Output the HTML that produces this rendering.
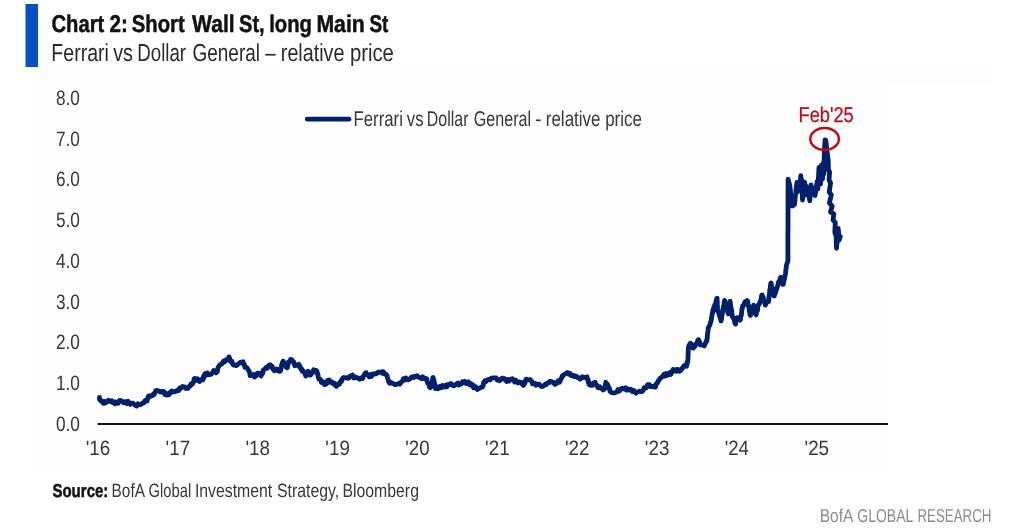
<!DOCTYPE html>
<html><head><meta charset="utf-8"><title>Chart 2</title>
<style>
html,body{margin:0;padding:0;background:#ffffff;}
body{width:1024px;height:530px;overflow:hidden;font-family:"Liberation Sans",sans-serif;}
svg{display:block;will-change:transform;text-rendering:geometricPrecision;}
svg text{font-family:"Liberation Sans",sans-serif;}
</style></head>
<body>
<svg width="1024" height="530" viewBox="0 0 1024 530">
<rect x="30" y="87" width="858" height="383" fill="#fefefe"/>
<rect x="30" y="66" width="964" height="18" fill="#fefefe"/>
<rect x="25.5" y="4" width="12.5" height="63" fill="#0550c3"/>
<line x1="97.5" y1="424" x2="888" y2="424" stroke="#111111" stroke-width="2.2"/>
<line x1="307.3" y1="119.2" x2="349" y2="119.2" stroke="#00206b" stroke-width="4.8" stroke-linecap="round"/>
<path d="M99.5,397.4 L99.5,398.0 L99.6,399.6 L101.0,401.0 L102.0,400.8 L103.1,403.1 L104.1,403.4 L105.2,401.6 L106.3,402.5 L107.4,401.6 L108.5,400.2 L109.6,401.0 L110.7,401.6 L111.8,400.8 L112.8,402.5 L113.9,402.0 L115.0,403.9 L116.0,402.1 L117.1,402.6 L118.2,403.3 L119.2,400.6 L120.2,400.4 L121.3,400.7 L122.4,401.4 L123.5,402.7 L124.6,401.9 L125.8,401.6 L126.9,403.7 L128.0,401.2 L129.1,402.9 L130.2,404.4 L131.2,403.1 L132.2,403.1 L133.3,403.4 L134.3,404.4 L135.4,405.4 L136.7,406.0 L137.9,403.8 L139.2,404.7 L140.4,404.6 L141.7,403.9 L142.8,402.9 L143.9,402.9 L144.9,400.8 L146.0,400.3 L147.1,401.0 L147.4,399.0 L147.6,399.2 L147.9,397.3 L148.2,396.4 L149.3,395.6 L150.4,396.3 L151.5,395.7 L152.6,395.6 L153.4,394.0 L154.2,394.4 L154.9,393.1 L155.7,390.7 L156.5,390.4 L157.8,390.8 L159.0,390.8 L160.3,392.1 L161.5,391.8 L162.8,391.3 L163.8,391.6 L164.8,394.6 L165.7,393.0 L166.7,395.1 L167.8,394.3 L168.8,394.7 L169.8,392.4 L170.9,392.8 L171.9,390.9 L173.0,391.7 L174.2,391.8 L175.3,391.7 L176.5,390.7 L177.7,390.1 L178.6,390.5 L179.6,388.1 L180.5,388.5 L181.5,387.5 L182.4,386.5 L183.6,387.0 L184.8,387.0 L185.9,388.4 L187.1,387.7 L188.0,388.4 L189.0,386.4 L189.9,386.3 L190.9,383.9 L191.8,384.6 L192.3,384.2 L192.7,383.0 L193.2,383.0 L193.7,381.4 L194.1,378.8 L194.6,378.4 L195.6,378.7 L196.6,380.1 L197.6,378.8 L198.6,380.8 L199.6,381.5 L200.6,380.0 L201.7,379.3 L202.7,379.9 L203.1,377.5 L203.5,378.6 L203.9,375.7 L204.3,375.0 L204.7,374.4 L205.1,373.7 L206.3,375.1 L207.4,373.0 L208.6,374.4 L209.8,374.8 L210.6,374.1 L211.4,374.2 L212.1,373.2 L212.9,372.5 L213.7,370.5 L214.5,370.6 L215.2,371.8 L216.0,372.9 L216.5,371.5 L217.0,372.1 L217.5,371.3 L217.9,367.9 L218.4,367.0 L218.9,366.2 L219.4,365.2 L219.9,365.0 L220.8,364.3 L221.8,364.0 L222.7,362.4 L223.7,361.0 L224.6,361.9 L225.3,360.8 L226.1,359.8 L226.8,359.6 L227.5,359.9 L228.3,358.3 L229.0,356.9 L229.5,358.2 L229.9,359.8 L230.4,361.2 L230.9,361.9 L231.9,361.3 L232.9,364.6 L233.8,365.1 L234.8,365.0 L236.1,365.6 L237.4,364.9 L238.7,363.5 L240.0,362.6 L241.3,362.1 L242.6,361.9 L243.1,361.8 L243.6,364.5 L244.0,363.9 L244.5,365.0 L245.0,367.4 L246.0,367.3 L247.1,367.9 L248.1,369.7 L248.5,370.4 L248.9,370.8 L249.4,371.8 L249.8,373.5 L250.2,375.7 L251.3,374.6 L252.4,375.4 L253.5,374.5 L254.6,377.1 L255.7,376.0 L256.5,375.4 L257.2,373.1 L258.0,373.2 L259.0,373.4 L260.1,374.6 L261.1,376.0 L261.5,374.5 L261.9,372.8 L262.3,373.9 L262.7,373.3 L263.1,370.6 L263.5,369.7 L264.8,369.2 L266.1,367.5 L267.4,368.2 L268.1,366.1 L268.8,366.0 L269.4,364.9 L270.1,364.7 L270.8,366.8 L271.5,365.8 L272.2,366.5 L272.9,369.0 L274.1,370.7 L275.2,369.9 L276.4,369.1 L277.6,370.7 L278.7,369.5 L279.9,371.3 L280.3,370.3 L280.6,370.5 L281.0,369.0 L281.3,367.4 L281.7,364.9 L282.0,364.1 L282.4,362.4 L282.7,363.0 L283.1,361.1 L283.8,362.2 L284.4,364.0 L285.1,363.7 L285.7,364.5 L286.4,367.3 L287.0,367.4 L287.3,367.8 L287.6,366.3 L287.9,365.0 L288.2,364.0 L288.5,361.9 L289.6,361.9 L290.6,359.5 L291.7,359.6 L292.2,360.7 L292.7,361.2 L293.2,361.3 L293.8,362.3 L294.3,364.1 L294.8,365.8 L296.1,364.6 L297.4,365.4 L298.7,364.3 L299.3,366.6 L299.9,366.0 L300.6,368.4 L301.2,369.5 L301.8,369.0 L302.4,371.4 L302.9,370.6 L303.5,371.2 L304.1,372.2 L304.7,373.1 L305.2,374.1 L305.8,376.0 L306.4,375.2 L307.0,374.9 L307.5,373.5 L308.1,371.3 L308.7,372.2 L309.3,373.7 L309.9,375.1 L310.5,375.2 L311.1,372.9 L311.7,373.5 L312.4,373.1 L313.0,371.6 L313.6,369.7 L315.0,370.9 L316.4,370.5 L316.8,371.6 L317.2,371.8 L317.6,374.8 L317.9,374.5 L318.3,377.0 L318.7,378.7 L319.1,378.4 L319.9,379.0 L320.6,379.9 L321.4,382.4 L322.2,382.6 L323.0,381.8 L323.7,382.6 L324.5,384.6 L325.3,382.8 L326.1,384.2 L326.9,383.2 L327.6,380.4 L328.4,381.7 L329.2,379.9 L330.1,382.2 L331.0,382.0 L331.9,381.9 L332.8,383.4 L333.7,382.9 L334.6,383.4 L335.5,385.7 L336.4,386.4 L337.4,384.8 L338.3,383.7 L339.3,384.3 L340.2,382.3 L340.8,381.1 L341.4,381.5 L341.9,380.4 L342.5,378.4 L343.6,377.5 L344.7,377.7 L345.8,377.8 L346.9,377.6 L348.0,378.4 L348.9,378.0 L349.8,376.3 L350.6,376.1 L351.5,375.7 L352.6,375.1 L353.7,377.9 L354.8,376.7 L355.9,377.6 L357.1,377.6 L358.4,378.2 L359.6,379.3 L360.9,378.0 L362.1,378.4 L362.7,378.6 L363.3,376.3 L364.0,375.4 L364.6,374.3 L365.2,373.2 L366.2,372.7 L367.2,374.8 L368.2,374.9 L369.2,376.8 L370.3,374.7 L371.4,376.5 L372.4,374.0 L373.5,374.2 L374.6,373.7 L375.8,374.0 L377.0,373.2 L378.1,372.1 L379.3,372.4 L380.5,372.1 L381.7,371.6 L382.6,373.2 L383.5,371.9 L384.4,374.0 L385.4,373.8 L386.3,374.6 L387.2,376.0 L387.5,377.9 L387.8,378.2 L388.1,379.5 L388.4,381.2 L388.7,381.5 L389.7,383.2 L390.7,382.2 L391.7,383.2 L392.8,383.3 L393.8,383.8 L394.8,384.7 L395.8,384.6 L396.8,384.0 L397.9,383.8 L398.9,383.2 L400.0,384.1 L401.0,382.3 L401.8,381.7 L402.5,381.1 L403.3,378.8 L404.5,380.1 L405.7,377.9 L406.9,378.8 L408.0,379.9 L409.2,379.5 L410.4,378.4 L411.5,377.1 L412.6,376.8 L413.7,377.5 L414.9,376.2 L416.0,376.5 L417.1,375.7 L418.2,376.8 L419.3,377.5 L420.4,378.1 L421.5,378.7 L422.7,376.7 L423.8,378.6 L424.9,378.7 L426.0,378.4 L426.6,378.5 L427.2,381.9 L427.8,383.3 L428.4,383.1 L428.9,383.4 L429.4,386.8 L429.9,386.2 L430.4,387.7 L430.7,386.5 L431.0,386.9 L431.3,385.3 L431.6,382.2 L431.9,381.9 L432.2,381.0 L432.5,379.4 L432.8,377.8 L433.1,377.6 L433.3,378.1 L433.6,380.4 L433.8,379.4 L434.0,382.1 L434.2,382.9 L434.5,382.7 L434.7,384.7 L434.9,386.7 L435.2,387.4 L435.4,388.5 L436.6,386.6 L437.8,388.8 L438.9,387.6 L440.1,386.2 L441.3,387.8 L442.5,385.4 L443.6,386.1 L444.8,387.0 L446.0,385.0 L447.1,386.6 L448.3,384.5 L449.5,384.6 L450.8,383.5 L452.0,384.4 L453.3,385.8 L454.5,385.6 L455.8,384.6 L456.9,383.6 L458.0,383.0 L459.1,385.0 L460.3,383.7 L461.4,383.8 L462.5,381.7 L463.6,382.6 L464.8,381.4 L465.9,383.5 L467.1,382.8 L468.3,381.9 L469.4,384.7 L470.6,383.5 L471.4,384.7 L472.2,386.1 L472.9,384.8 L473.7,387.9 L474.5,387.7 L475.8,386.8 L477.2,389.5 L478.5,388.8 L479.8,388.1 L481.1,387.1 L482.4,387.0 L482.8,386.0 L483.1,385.9 L483.5,382.8 L483.9,382.3 L484.9,380.8 L486.0,381.6 L487.0,380.3 L488.1,379.5 L489.1,379.3 L490.2,379.9 L491.4,378.1 L492.5,378.0 L493.7,377.8 L494.9,377.9 L496.1,378.0 L497.2,380.1 L498.4,379.4 L499.6,380.7 L500.8,379.6 L501.9,378.4 L502.8,378.1 L503.8,379.2 L504.7,378.8 L505.7,380.1 L506.6,381.5 L507.8,379.4 L509.0,381.0 L510.1,379.9 L511.3,379.1 L512.4,378.7 L513.5,380.2 L514.6,382.1 L515.7,380.2 L516.8,382.0 L518.0,383.0 L519.1,381.9 L520.3,382.2 L521.5,382.3 L522.1,384.3 L522.8,384.0 L523.4,385.4 L523.9,384.4 L524.3,383.9 L524.8,383.7 L525.3,380.7 L525.7,381.1 L526.2,379.1 L527.5,379.9 L528.8,379.8 L530.1,379.5 L530.7,380.3 L531.3,381.2 L531.9,381.4 L532.5,383.8 L533.6,383.0 L534.7,383.1 L535.8,385.3 L537.0,384.2 L538.1,384.1 L539.2,384.2 L540.3,385.7 L541.5,386.5 L542.7,386.4 L543.9,385.6 L545.1,384.2 L546.3,384.6 L547.2,383.2 L548.2,382.7 L549.1,382.6 L550.1,381.1 L551.0,381.5 L552.0,382.0 L553.1,382.1 L554.1,383.5 L555.1,384.4 L556.2,383.9 L557.2,382.1 L558.3,380.7 L559.4,382.3 L560.4,380.4 L561.0,378.8 L561.6,377.9 L562.3,375.8 L562.9,375.9 L563.5,375.2 L564.5,374.4 L565.6,373.7 L566.6,372.9 L567.8,372.7 L569.0,374.3 L570.1,373.5 L571.3,375.7 L572.4,375.4 L573.4,375.3 L574.5,376.7 L575.6,376.0 L576.7,376.4 L577.8,377.7 L578.8,377.9 L579.9,379.1 L580.7,378.6 L581.5,377.7 L582.3,376.8 L583.5,377.6 L584.6,377.3 L585.8,377.4 L587.0,376.8 L587.3,379.1 L587.7,378.7 L588.0,379.6 L588.3,382.7 L588.6,381.3 L589.0,384.2 L589.3,384.6 L590.8,385.4 L592.4,385.4 L593.3,383.0 L594.2,384.3 L595.1,382.3 L595.8,384.6 L596.5,384.8 L597.3,386.2 L598.0,387.6 L598.7,387.7 L599.8,386.9 L600.9,388.4 L602.0,388.7 L603.1,390.0 L604.2,389.3 L604.5,389.0 L604.7,387.9 L605.0,386.1 L605.3,385.8 L605.5,384.0 L605.8,382.3 L606.3,383.9 L606.8,383.6 L607.3,384.0 L607.9,385.3 L608.4,387.0 L608.9,388.5 L609.5,388.3 L610.0,391.5 L610.6,391.6 L611.2,392.4 L612.4,392.8 L613.5,392.8 L614.7,392.9 L615.9,392.4 L617.0,391.7 L618.0,389.5 L619.0,391.2 L620.1,390.3 L621.2,388.9 L622.2,388.2 L623.4,388.6 L624.5,389.3 L625.7,387.8 L626.9,390.2 L628.0,389.0 L629.2,390.1 L630.3,389.1 L631.5,389.9 L632.6,391.6 L633.7,390.3 L634.8,392.2 L636.0,393.2 L637.1,392.0 L638.2,391.8 L639.3,391.2 L640.3,391.3 L641.4,391.7 L642.5,390.9 L643.0,390.6 L643.6,389.1 L644.1,387.7 L645.3,388.1 L646.5,387.7 L647.1,385.4 L647.7,384.6 L648.3,384.6 L649.5,384.6 L650.7,386.7 L651.9,386.7 L653.1,386.2 L654.3,387.1 L655.5,387.0 L656.0,384.5 L656.4,383.6 L656.9,383.2 L657.3,383.3 L657.8,382.3 L658.2,380.7 L659.0,380.4 L659.8,378.5 L660.5,378.4 L661.3,377.5 L662.1,376.7 L662.9,376.0 L664.0,374.3 L665.0,376.1 L666.0,373.5 L667.1,375.4 L668.2,374.7 L669.2,372.9 L670.7,374.4 L671.2,372.0 L671.7,372.3 L672.1,372.4 L672.6,371.8 L673.1,369.4 L674.1,369.9 L675.2,370.0 L676.2,371.3 L677.0,369.5 L677.8,369.4 L679.3,371.3 L680.9,370.5 L681.5,368.6 L682.2,368.7 L682.8,367.4 L684.0,365.8 L685.2,366.4 L686.4,365.8 L686.7,366.1 L687.0,362.5 L687.3,363.5 L687.6,361.5 L687.9,360.4 L687.9,360.4 L688.0,358.7 L688.0,356.2 L688.1,357.0 L688.1,354.6 L688.2,352.1 L688.2,350.9 L688.3,351.2 L688.3,349.9 L688.4,348.4 L688.4,347.8 L688.9,345.6 L689.4,345.0 L689.9,343.8 L690.4,343.2 L691.0,345.4 L691.6,344.1 L692.2,347.6 L692.8,348.0 L693.5,348.0 L694.2,344.9 L695.0,346.3 L695.7,344.0 L696.4,343.6 L697.1,343.1 L697.8,340.1 L698.5,339.7 L699.0,340.5 L699.5,341.7 L699.9,344.7 L700.4,344.4 L701.7,345.2 L703.0,345.0 L704.3,345.9 L704.9,344.5 L705.6,342.9 L706.2,341.0 L706.9,341.2 L707.0,338.9 L707.1,340.0 L707.2,337.2 L707.3,338.1 L707.4,334.9 L707.5,333.8 L707.7,333.5 L707.8,331.4 L707.9,330.8 L708.0,331.5 L708.1,330.2 L708.2,327.9 L708.6,327.7 L709.1,326.1 L709.5,325.8 L710.0,324.8 L710.4,322.5 L710.9,321.9 L711.3,320.1 L711.5,317.5 L711.6,318.3 L711.8,316.2 L711.9,315.8 L712.1,313.8 L712.5,313.1 L712.8,310.9 L713.2,309.1 L713.5,310.6 L713.9,307.1 L714.2,307.0 L714.6,305.5 L715.0,304.3 L715.3,304.5 L715.7,304.1 L716.0,300.8 L716.4,300.9 L716.7,298.7 L717.1,298.2 L717.1,299.5 L717.2,300.2 L717.2,300.6 L717.3,301.7 L717.3,303.0 L717.4,306.2 L717.4,306.1 L717.5,306.5 L717.5,309.6 L717.6,311.1 L717.6,310.7 L718.0,311.7 L718.4,311.9 L718.7,313.2 L719.1,314.0 L719.5,315.9 L719.9,316.3 L720.2,317.9 L720.6,319.0 L721.0,320.9 L721.2,320.0 L721.4,319.8 L721.6,318.2 L721.8,316.1 L722.0,315.0 L722.2,314.2 L722.4,312.6 L722.6,311.3 L722.8,309.4 L723.0,308.9 L723.2,309.8 L723.4,306.2 L723.6,306.2 L723.8,305.4 L724.0,305.0 L724.2,301.9 L724.4,300.9 L724.6,300.5 L724.9,300.9 L725.2,302.4 L725.6,303.7 L725.9,306.3 L726.2,307.1 L726.5,308.3 L726.9,306.8 L727.2,308.0 L727.5,311.1 L727.9,312.8 L728.2,312.6 L728.5,313.8 L728.6,312.9 L728.8,310.0 L728.9,310.1 L729.1,310.5 L729.2,309.1 L729.4,308.0 L729.5,307.3 L729.7,304.0 L729.8,302.4 L730.0,301.4 L730.1,301.3 L730.3,302.5 L730.5,304.1 L730.6,306.1 L730.8,306.5 L731.0,307.5 L731.2,309.0 L731.3,309.2 L731.5,310.6 L731.7,310.2 L731.9,313.6 L732.0,313.1 L732.2,316.3 L732.4,316.2 L732.9,317.8 L733.3,317.8 L733.8,318.4 L734.2,319.9 L734.7,322.2 L735.1,323.5 L735.6,324.0 L735.9,321.6 L736.2,320.2 L736.5,320.3 L736.8,319.2 L737.1,317.7 L738.2,318.2 L739.2,318.5 L740.3,320.1 L740.5,319.2 L740.7,316.3 L740.9,316.0 L741.1,315.3 L741.3,315.6 L741.5,313.5 L741.6,313.0 L741.8,310.6 L742.0,308.7 L742.2,307.6 L742.4,308.6 L742.6,306.0 L743.4,305.7 L744.2,303.6 L745.0,301.8 L745.7,302.3 L746.5,301.9 L747.3,300.5 L747.5,301.4 L747.8,302.1 L748.0,304.4 L748.3,306.4 L748.5,305.4 L748.7,306.0 L749.0,308.0 L749.2,309.4 L749.4,311.4 L749.7,311.1 L749.9,314.0 L750.2,315.0 L750.4,315.4 L750.8,314.3 L751.1,312.2 L751.5,313.4 L751.8,310.3 L752.2,310.7 L752.5,307.8 L752.9,306.6 L753.2,307.1 L753.6,305.2 L753.9,305.8 L754.2,308.9 L754.5,308.7 L754.8,309.0 L755.0,310.2 L755.3,312.0 L755.6,313.9 L755.9,314.6 L756.2,314.9 L756.5,311.4 L756.9,311.0 L757.2,309.4 L757.5,310.6 L757.8,307.0 L758.1,305.6 L758.5,304.6 L758.8,304.5 L759.1,303.7 L759.5,303.8 L759.9,302.7 L760.3,301.1 L760.7,300.8 L761.0,299.6 L761.4,296.7 L761.8,295.1 L762.2,295.0 L762.5,297.4 L762.9,298.0 L763.2,297.0 L763.6,300.0 L763.9,300.3 L764.3,301.4 L764.6,302.4 L765.0,303.1 L765.3,305.2 L766.1,302.7 L766.9,302.6 L767.7,301.8 L768.5,301.3 L768.6,301.5 L768.8,297.9 L768.9,299.3 L769.1,295.9 L769.2,295.2 L769.4,295.5 L769.5,294.4 L769.6,292.1 L769.8,289.8 L769.9,290.0 L770.1,288.5 L770.2,289.1 L770.4,285.8 L770.5,285.1 L770.7,285.6 L770.8,283.3 L771.1,283.0 L771.4,285.3 L771.6,287.6 L771.9,288.6 L772.2,287.6 L772.5,288.7 L772.8,289.9 L773.1,293.7 L773.3,292.8 L773.6,295.4 L773.9,295.8 L774.3,295.9 L774.8,293.1 L775.2,291.8 L775.6,292.7 L776.1,290.5 L776.5,288.4 L776.9,288.6 L777.4,286.3 L777.8,285.7 L778.1,283.9 L778.5,282.0 L778.8,283.1 L779.2,282.4 L779.5,280.5 L779.9,280.3 L780.2,277.8 L780.7,277.4 L781.2,279.1 L781.8,280.9 L782.3,283.4 L782.8,284.4 L783.3,284.1 L783.5,282.6 L783.7,281.1 L784.0,280.5 L784.2,279.5 L784.4,279.7 L784.6,276.3 L784.8,277.1 L785.0,275.7 L785.3,274.8 L785.5,273.6 L785.7,271.6 L785.8,270.8 L786.0,268.9 L786.1,268.3 L786.2,267.2 L786.4,266.1 L786.5,265.0 L787.0,263.7 L787.4,262.3 L787.9,261.0 L787.9,259.9 L787.9,258.8 L787.9,257.7 L787.9,256.6 L787.9,255.5 L787.9,254.3 L787.9,253.2 L787.9,252.1 L787.9,251.0 L787.9,249.9 L787.9,248.8 L787.9,247.7 L787.9,246.6 L787.9,245.5 L787.9,244.4 L787.9,243.3 L787.9,242.1 L787.9,241.0 L787.9,239.9 L787.9,238.8 L787.9,237.7 L787.9,236.6 L787.9,235.5 L787.9,234.4 L787.9,233.3 L787.9,232.2 L787.9,231.1 L788.0,229.9 L788.0,228.8 L788.0,227.7 L788.0,226.6 L788.0,225.5 L788.0,224.4 L788.0,223.3 L788.0,222.2 L788.0,221.1 L788.0,220.0 L788.0,218.9 L788.0,217.7 L788.0,216.6 L788.0,215.5 L788.0,214.4 L788.0,213.3 L788.0,212.2 L788.0,211.1 L788.0,210.0 L788.0,208.9 L788.0,207.8 L788.0,206.7 L788.0,205.5 L788.0,204.4 L788.0,203.3 L788.0,202.2 L788.0,201.1 L788.0,200.0 L788.0,198.8 L788.0,197.7 L788.0,196.5 L788.0,195.4 L788.0,194.2 L788.0,193.1 L788.0,191.9 L788.0,190.8 L788.0,189.6 L788.1,188.4 L788.1,187.3 L788.1,186.1 L788.1,185.0 L788.1,183.8 L788.1,182.7 L788.1,181.5 L788.1,180.4 L788.1,179.2 L788.4,180.3 L788.7,181.5 L789.0,182.6 L789.3,183.7 L789.6,184.9 L789.9,186.0 L790.0,187.2 L790.1,188.3 L790.2,189.5 L790.4,190.7 L790.5,191.8 L790.6,193.0 L790.7,194.2 L790.8,195.3 L790.9,196.5 L791.1,197.7 L791.2,198.8 L791.3,200.0 L791.5,201.2 L791.7,202.4 L791.9,203.6 L792.1,204.8 L792.3,206.0 L793.4,205.2 L794.5,204.5 L794.6,203.3 L794.8,202.1 L794.9,200.9 L795.0,199.8 L795.1,198.6 L795.2,197.4 L795.4,196.2 L795.5,195.0 L795.6,193.9 L795.8,192.7 L795.9,191.6 L796.0,190.5 L796.1,189.3 L796.3,188.2 L796.4,187.0 L796.5,185.9 L796.6,184.8 L796.8,183.6 L796.9,182.5 L797.0,183.7 L797.0,184.9 L797.1,186.1 L797.2,187.2 L797.3,188.4 L797.4,189.6 L797.4,190.8 L797.5,192.0 L797.6,190.8 L797.8,189.6 L797.9,188.4 L798.1,187.1 L798.2,185.9 L798.4,184.7 L798.5,183.5 L798.7,184.8 L798.8,186.1 L799.0,187.4 L799.1,188.7 L799.3,190.0 L799.4,188.9 L799.5,187.8 L799.6,186.7 L799.8,185.6 L799.9,184.5 L800.0,183.4 L800.1,182.2 L800.2,181.1 L800.3,180.0 L800.5,178.9 L800.6,177.8 L800.7,176.7 L800.8,175.6 L800.8,176.7 L800.9,177.9 L800.9,179.0 L801.0,180.1 L801.0,181.2 L801.1,182.4 L801.1,183.5 L801.2,184.6 L801.2,185.7 L801.3,186.9 L801.3,188.0 L801.4,186.9 L801.4,185.7 L801.5,184.6 L801.6,183.4 L801.7,182.3 L801.7,181.1 L801.8,180.0 L801.8,181.1 L801.9,182.2 L801.9,183.3 L802.0,184.4 L802.0,185.6 L802.0,186.7 L802.1,187.8 L802.1,188.9 L802.1,190.0 L802.2,191.1 L802.2,192.2 L802.3,193.3 L802.3,194.4 L802.3,195.6 L802.4,196.7 L802.4,197.8 L802.5,198.9 L802.5,200.0 L802.6,198.8 L802.6,197.6 L802.7,196.5 L802.8,195.3 L802.9,194.1 L802.9,192.9 L803.0,191.7 L803.1,190.5 L803.2,189.4 L803.2,188.2 L803.3,187.0 L803.6,185.8 L804.0,184.7 L804.4,183.5 L804.7,182.3 L804.8,183.5 L804.9,184.7 L804.9,185.9 L805.0,187.2 L805.1,188.4 L805.1,189.6 L805.2,190.8 L805.3,192.0 L805.5,190.8 L805.7,189.6 L805.8,188.4 L806.0,187.2 L806.2,186.0 L806.3,187.1 L806.4,188.2 L806.4,189.4 L806.5,190.5 L806.6,191.6 L806.6,192.8 L806.7,193.9 L806.8,195.0 L807.0,193.9 L807.2,192.8 L807.4,191.8 L807.6,190.7 L807.8,189.6 L808.0,188.5 L808.2,189.8 L808.3,191.0 L808.5,192.2 L808.7,193.5 L808.8,194.8 L809.0,196.0 L809.2,197.2 L809.4,198.4 L809.6,199.6 L809.8,200.8 L809.9,199.6 L810.0,198.4 L810.1,197.1 L810.1,195.9 L810.2,194.7 L810.3,193.4 L810.4,192.2 L810.5,191.0 L810.6,189.8 L810.7,188.6 L810.8,187.4 L810.9,186.2 L811.0,185.0 L811.2,186.2 L811.3,187.3 L811.5,188.5 L811.7,189.7 L811.8,190.8 L812.0,192.0 L812.4,190.7 L812.8,189.3 L813.2,188.0 L813.5,189.1 L813.7,190.1 L814.0,191.2 L814.2,192.3 L814.5,193.4 L814.7,194.4 L815.0,195.5 L815.2,194.3 L815.4,193.2 L815.5,192.0 L815.7,190.8 L815.9,189.7 L816.1,188.5 L816.3,187.3 L816.5,186.2 L816.7,185.0 L816.8,183.8 L817.0,182.7 L817.2,181.5 L817.3,182.8 L817.4,184.0 L817.5,185.2 L817.6,186.5 L817.7,187.8 L817.8,189.0 L817.9,187.9 L817.9,186.7 L818.0,185.6 L818.1,184.5 L818.1,183.3 L818.2,182.2 L818.2,181.1 L818.3,179.9 L818.4,178.8 L818.4,177.7 L818.5,176.6 L818.6,175.4 L818.6,174.3 L818.7,173.2 L818.7,172.0 L818.8,170.9 L818.9,169.8 L818.9,168.6 L819.0,167.5 L819.1,168.6 L819.2,169.7 L819.3,170.8 L819.4,171.9 L819.5,173.0 L819.6,174.1 L819.7,175.2 L819.8,176.3 L819.9,177.4 L820.0,178.5 L820.1,179.6 L820.2,180.7 L820.3,181.8 L820.4,182.9 L820.5,184.0 L820.5,182.9 L820.6,181.8 L820.6,180.7 L820.7,179.6 L820.7,178.5 L820.8,177.4 L820.8,176.3 L820.9,175.2 L820.9,174.0 L821.0,172.9 L821.0,171.8 L821.1,170.7 L821.1,169.6 L821.2,168.5 L821.2,167.4 L821.3,166.3 L821.3,165.2 L821.4,166.3 L821.5,167.5 L821.6,168.6 L821.7,169.8 L821.8,170.9 L821.9,172.1 L822.0,173.2 L822.1,174.4 L822.2,175.6 L822.3,176.7 L822.4,177.8 L822.5,179.0 L822.6,177.9 L822.6,176.8 L822.7,175.7 L822.8,174.6 L822.8,173.5 L822.9,172.4 L823.0,171.3 L823.0,170.2 L823.1,169.1 L823.2,168.0 L823.2,166.9 L823.3,165.8 L823.4,164.7 L823.4,163.6 L823.5,162.5 L823.5,163.7 L823.6,164.8 L823.6,165.9 L823.6,167.1 L823.6,168.2 L823.7,169.4 L823.7,170.6 L823.7,171.7 L823.8,172.8 L823.8,174.0 L823.8,172.9 L823.9,171.7 L823.9,170.6 L823.9,169.4 L823.9,168.3 L824.0,167.1 L824.0,166.0 L824.0,164.9 L824.1,163.7 L824.1,162.6 L824.1,161.4 L824.1,160.3 L824.2,159.1 L824.2,158.0 L824.2,156.9 L824.3,155.7 L824.3,154.6 L824.3,153.4 L824.3,152.3 L824.4,151.1 L824.4,150.0 L824.5,148.9 L824.6,147.7 L824.6,146.6 L824.7,145.5 L824.8,144.3 L824.9,143.2 L824.9,142.1 L825.0,140.9 L825.1,139.8 L825.8,140.5 L825.9,141.6 L826.0,142.7 L826.2,143.8 L826.3,144.9 L826.4,146.0 L826.5,147.1 L826.7,148.3 L826.8,149.4 L826.9,150.6 L827.0,151.7 L827.2,152.9 L827.3,154.0 L827.5,155.2 L827.7,156.4 L827.8,157.6 L828.0,158.8 L828.2,160.0 L828.2,161.1 L828.2,162.2 L828.3,163.3 L828.3,164.4 L828.3,165.6 L828.3,166.7 L828.4,167.8 L828.4,168.9 L828.4,170.0 L829.0,171.0 L829.6,172.0 L829.5,173.1 L829.4,174.3 L829.3,175.4 L829.3,176.6 L829.2,177.7 L829.1,178.9 L829.0,180.0 L829.5,181.0 L830.1,182.0 L830.6,183.0 L830.4,184.1 L830.2,185.2 L830.1,186.4 L829.9,187.5 L829.7,188.6 L829.6,189.8 L829.4,190.9 L829.2,192.0 L829.9,193.0 L830.6,194.0 L831.3,195.0 L831.0,196.1 L830.8,197.3 L830.5,198.4 L830.2,199.6 L829.9,200.7 L829.7,201.9 L829.4,203.0 L830.3,204.0 L831.3,205.0 L832.2,206.0 L831.9,207.2 L831.5,208.4 L831.2,209.6 L830.8,210.8 L830.5,212.0 L831.6,212.7 L832.8,213.3 L833.9,214.0 L833.7,215.2 L833.5,216.4 L833.4,217.6 L833.2,218.8 L833.0,220.0 L833.8,220.8 L834.5,221.7 L835.3,222.5 L835.2,223.7 L835.2,224.9 L835.1,226.1 L835.0,227.2 L835.0,228.4 L834.9,229.6 L834.9,230.8 L834.8,232.0 L835.2,233.3 L835.6,234.7 L836.0,236.0 L836.1,237.1 L836.1,238.3 L836.2,239.4 L836.2,240.6 L836.3,241.7 L836.3,242.9 L836.4,244.0 L836.4,245.4 L836.5,246.9 L836.5,248.3 L836.6,247.2 L836.7,246.0 L836.8,244.9 L836.9,243.7 L837.1,242.6 L837.2,241.4 L837.3,240.3 L837.4,239.1 L837.5,238.0 L837.6,236.8 L837.7,235.6 L837.8,234.4 L837.9,233.2 L837.9,232.1 L838.0,230.9 L838.1,229.7 L838.2,228.5 L838.3,229.8 L838.4,231.0 L838.5,232.2 L838.7,233.5 L838.8,234.8 L838.9,236.0 L839.0,237.3 L839.1,238.7 L839.2,240.0 L839.6,238.8 L839.9,237.7 L840.3,236.5" fill="none" stroke="#00206b" stroke-width="4.8" stroke-linejoin="round" stroke-linecap="round"/>
<ellipse cx="824.6" cy="139" rx="14.3" ry="10.9" fill="none" stroke="#c00a14" stroke-width="2.5"/>
<text x="51.53" y="32" font-size="24.2" font-weight="bold" fill="#111111" text-anchor="start" textLength="52.74" lengthAdjust="spacingAndGlyphs" stroke="#111111" stroke-width="0.5">Chart</text>
<text x="109.58" y="32" font-size="24.2" font-weight="bold" fill="#111111" text-anchor="start" textLength="18.38" lengthAdjust="spacingAndGlyphs" stroke="#111111" stroke-width="0.5">2:</text>
<text x="131.83" y="32" font-size="24.2" font-weight="bold" fill="#111111" text-anchor="start" textLength="52.91" lengthAdjust="spacingAndGlyphs" stroke="#111111" stroke-width="0.5">Short</text>
<text x="192.12" y="32" font-size="24.2" font-weight="bold" fill="#111111" text-anchor="start" textLength="42.6" lengthAdjust="spacingAndGlyphs" stroke="#111111" stroke-width="0.5">Wall</text>
<text x="239.09" y="32" font-size="24.2" font-weight="bold" fill="#111111" text-anchor="start" textLength="25.6" lengthAdjust="spacingAndGlyphs" stroke="#111111" stroke-width="0.5">St,</text>
<text x="269.24" y="32" font-size="24.2" font-weight="bold" fill="#111111" text-anchor="start" textLength="42.74" lengthAdjust="spacingAndGlyphs" stroke="#111111" stroke-width="0.5">long</text>
<text x="316.43" y="32" font-size="24.2" font-weight="bold" fill="#111111" text-anchor="start" textLength="48.34" lengthAdjust="spacingAndGlyphs" stroke="#111111" stroke-width="0.5">Main</text>
<text x="369.42" y="32" font-size="24.2" font-weight="bold" fill="#111111" text-anchor="start" textLength="18.91" lengthAdjust="spacingAndGlyphs" stroke="#111111" stroke-width="0.5">St</text>
<text x="51.36" y="61" font-size="24.6" font-weight="normal" fill="#2b2b2b" text-anchor="start" textLength="57.52" lengthAdjust="spacingAndGlyphs" >Ferrari</text>
<text x="113.13" y="61" font-size="24.6" font-weight="normal" fill="#2b2b2b" text-anchor="start" textLength="19.69" lengthAdjust="spacingAndGlyphs" >vs</text>
<text x="137.31" y="61" font-size="24.6" font-weight="normal" fill="#2b2b2b" text-anchor="start" textLength="48.79" lengthAdjust="spacingAndGlyphs" >Dollar</text>
<text x="192.52" y="61" font-size="24.6" font-weight="normal" fill="#2b2b2b" text-anchor="start" textLength="67.46" lengthAdjust="spacingAndGlyphs" >General</text>
<text x="265.3" y="61" font-size="24.6" font-weight="normal" fill="#2b2b2b" text-anchor="start" textLength="10.42" lengthAdjust="spacingAndGlyphs" >–</text>
<text x="280.83" y="61" font-size="24.6" font-weight="normal" fill="#2b2b2b" text-anchor="start" textLength="63.53" lengthAdjust="spacingAndGlyphs" >relative</text>
<text x="349.89" y="61" font-size="24.6" font-weight="normal" fill="#2b2b2b" text-anchor="start" textLength="44.01" lengthAdjust="spacingAndGlyphs" >price</text>
<text x="353.52" y="125.6" font-size="21.4" font-weight="normal" fill="#383838" text-anchor="start" textLength="49.35" lengthAdjust="spacingAndGlyphs" >Ferrari</text>
<text x="406.86" y="125.6" font-size="21.4" font-weight="normal" fill="#383838" text-anchor="start" textLength="16.66" lengthAdjust="spacingAndGlyphs" >vs</text>
<text x="426.73" y="125.6" font-size="21.4" font-weight="normal" fill="#383838" text-anchor="start" textLength="41.73" lengthAdjust="spacingAndGlyphs" >Dollar</text>
<text x="473.83" y="125.6" font-size="21.4" font-weight="normal" fill="#383838" text-anchor="start" textLength="57.26" lengthAdjust="spacingAndGlyphs" >General</text>
<text x="535.09" y="125.6" font-size="21.4" font-weight="normal" fill="#383838" text-anchor="start" textLength="6.58" lengthAdjust="spacingAndGlyphs" >-</text>
<text x="545.76" y="125.6" font-size="21.4" font-weight="normal" fill="#383838" text-anchor="start" textLength="54.79" lengthAdjust="spacingAndGlyphs" >relative</text>
<text x="605.2" y="125.6" font-size="21.4" font-weight="normal" fill="#383838" text-anchor="start" textLength="36.7" lengthAdjust="spacingAndGlyphs" >price</text>
<text x="52.4" y="497" font-size="18.6" font-weight="bold" fill="#111111" text-anchor="start" textLength="55.97" lengthAdjust="spacingAndGlyphs" stroke="#111111" stroke-width="0.5">Source:</text>
<text x="111.55" y="497" font-size="19.2" font-weight="normal" fill="#383838" text-anchor="start" textLength="33.4" lengthAdjust="spacingAndGlyphs" >BofA</text>
<text x="148.49" y="497" font-size="19.2" font-weight="normal" fill="#383838" text-anchor="start" textLength="42.71" lengthAdjust="spacingAndGlyphs" >Global</text>
<text x="194.92" y="497" font-size="19.2" font-weight="normal" fill="#383838" text-anchor="start" textLength="77.24" lengthAdjust="spacingAndGlyphs" >Investment</text>
<text x="276.94" y="497" font-size="19.2" font-weight="normal" fill="#383838" text-anchor="start" textLength="62.26" lengthAdjust="spacingAndGlyphs" >Strategy,</text>
<text x="342.43" y="497" font-size="19.2" font-weight="normal" fill="#383838" text-anchor="start" textLength="76.51" lengthAdjust="spacingAndGlyphs" >Bloomberg</text>
<text x="819.65" y="522" font-size="18.7" font-weight="normal" fill="#8c8c8c" text-anchor="start" textLength="33.71" lengthAdjust="spacingAndGlyphs" >BofA</text>
<text x="857.36" y="522" font-size="18.7" font-weight="normal" fill="#8c8c8c" text-anchor="start" textLength="55.86" lengthAdjust="spacingAndGlyphs" >GLOBAL</text>
<text x="917.43" y="522" font-size="18.7" font-weight="normal" fill="#8c8c8c" text-anchor="start" textLength="74.07" lengthAdjust="spacingAndGlyphs" >RESEARCH</text>
<text x="798.57" y="122" font-size="21.3" font-weight="normal" fill="#c00a14" text-anchor="start" textLength="55.16" lengthAdjust="spacingAndGlyphs" stroke="#c00a14" stroke-width="0.25">Feb'25</text>
<text x="55.9" y="430.8" font-size="20.8" font-weight="normal" fill="#383838" text-anchor="start" textLength="23.95" lengthAdjust="spacingAndGlyphs" >0.0</text>
<text x="55.9" y="390.05" font-size="20.8" font-weight="normal" fill="#383838" text-anchor="start" textLength="23.95" lengthAdjust="spacingAndGlyphs" >1.0</text>
<text x="55.9" y="349.3" font-size="20.8" font-weight="normal" fill="#383838" text-anchor="start" textLength="23.95" lengthAdjust="spacingAndGlyphs" >2.0</text>
<text x="55.9" y="308.55" font-size="20.8" font-weight="normal" fill="#383838" text-anchor="start" textLength="23.95" lengthAdjust="spacingAndGlyphs" >3.0</text>
<text x="55.9" y="267.8" font-size="20.8" font-weight="normal" fill="#383838" text-anchor="start" textLength="23.95" lengthAdjust="spacingAndGlyphs" >4.0</text>
<text x="55.9" y="227.05" font-size="20.8" font-weight="normal" fill="#383838" text-anchor="start" textLength="23.95" lengthAdjust="spacingAndGlyphs" >5.0</text>
<text x="55.9" y="186.3" font-size="20.8" font-weight="normal" fill="#383838" text-anchor="start" textLength="23.95" lengthAdjust="spacingAndGlyphs" >6.0</text>
<text x="55.9" y="145.55" font-size="20.8" font-weight="normal" fill="#383838" text-anchor="start" textLength="23.95" lengthAdjust="spacingAndGlyphs" >7.0</text>
<text x="55.9" y="104.8" font-size="20.8" font-weight="normal" fill="#383838" text-anchor="start" textLength="23.95" lengthAdjust="spacingAndGlyphs" >8.0</text>
<text x="85.73" y="455" font-size="20.8" font-weight="normal" fill="#383838" text-anchor="start" textLength="24.55" lengthAdjust="spacingAndGlyphs" >'16</text>
<text x="165.62" y="455" font-size="20.8" font-weight="normal" fill="#383838" text-anchor="start" textLength="24.54" lengthAdjust="spacingAndGlyphs" >'17</text>
<text x="245.47" y="455" font-size="20.8" font-weight="normal" fill="#383838" text-anchor="start" textLength="24.61" lengthAdjust="spacingAndGlyphs" >'18</text>
<text x="325.36" y="455" font-size="20.8" font-weight="normal" fill="#383838" text-anchor="start" textLength="24.51" lengthAdjust="spacingAndGlyphs" >'19</text>
<text x="405.23" y="455" font-size="20.8" font-weight="normal" fill="#383838" text-anchor="start" textLength="24.32" lengthAdjust="spacingAndGlyphs" >'20</text>
<text x="485.12" y="455" font-size="20.8" font-weight="normal" fill="#383838" text-anchor="start" textLength="24.53" lengthAdjust="spacingAndGlyphs" >'21</text>
<text x="564.97" y="455" font-size="20.8" font-weight="normal" fill="#383838" text-anchor="start" textLength="24.54" lengthAdjust="spacingAndGlyphs" >'22</text>
<text x="644.82" y="455" font-size="20.8" font-weight="normal" fill="#383838" text-anchor="start" textLength="24.59" lengthAdjust="spacingAndGlyphs" >'23</text>
<text x="724.69" y="455" font-size="20.8" font-weight="normal" fill="#383838" text-anchor="start" textLength="24.23" lengthAdjust="spacingAndGlyphs" >'24</text>
<text x="804.56" y="455" font-size="20.8" font-weight="normal" fill="#383838" text-anchor="start" textLength="24.51" lengthAdjust="spacingAndGlyphs" >'25</text>
</svg>
</body></html>
